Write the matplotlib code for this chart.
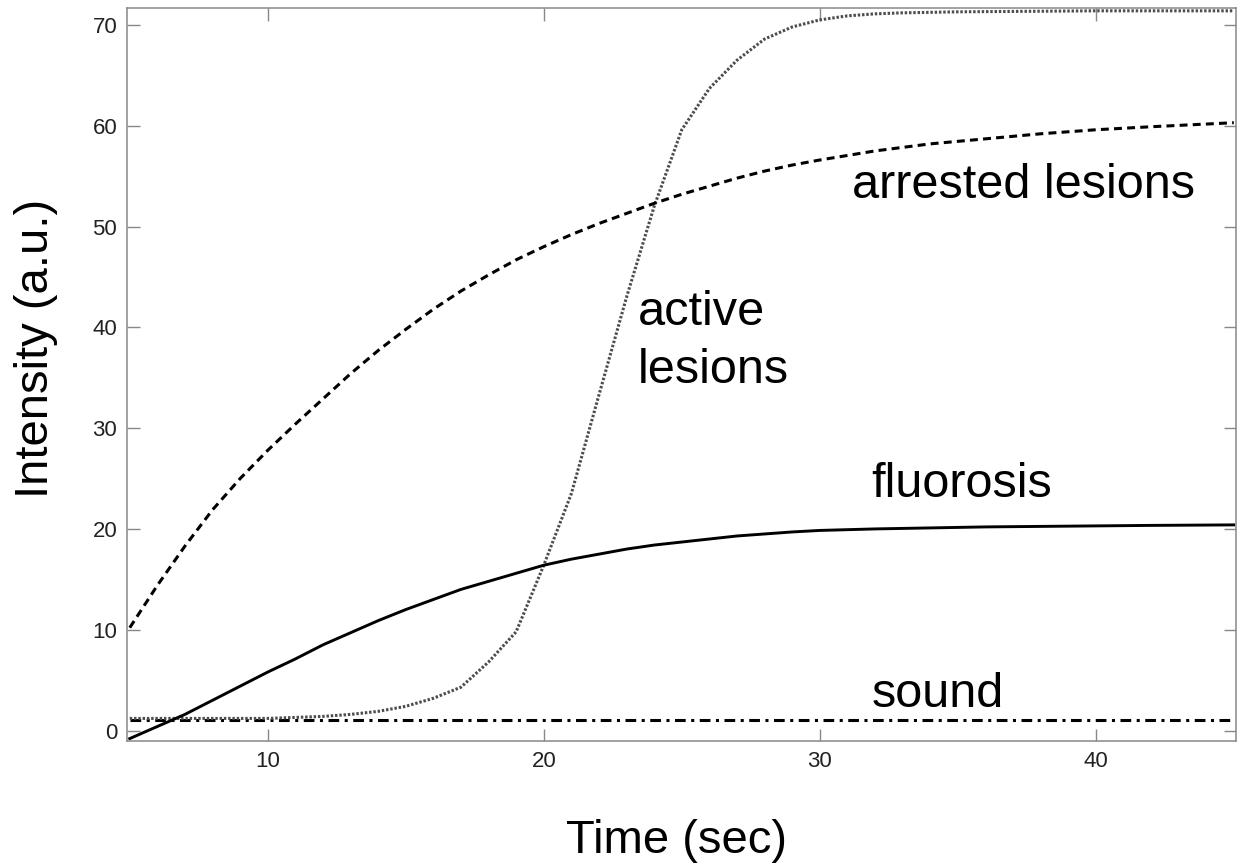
import numpy as np
import matplotlib.pyplot as plt

plt.rcParams['font.family'] = ['Liberation Sans', 'DejaVu Sans']

# time axis (sec)
t_arr = [5, 6, 7, 8, 9, 10, 11, 12, 13, 14, 15, 16, 17, 18, 19, 20, 21, 22, 23, 24,
         25, 26, 27, 28, 29, 30, 32, 34, 36, 38, 40, 42, 45]
arrested = [10.2, 14.4, 18.3, 21.9, 25.0, 27.8, 30.4, 32.9, 35.4, 37.7, 39.8, 41.8,
            43.6, 45.2, 46.7, 48.0, 49.2, 50.3, 51.3, 52.3, 53.2, 54.0, 54.8, 55.5,
            56.1, 56.6, 57.5, 58.2, 58.7, 59.2, 59.6, 59.9, 60.3]

t_flu = [5, 6, 7, 8, 9, 10, 11, 12, 13, 14, 15, 16, 17, 18, 19, 20, 21, 22, 23, 24,
         25, 26, 27, 28, 29, 30, 32, 34, 36, 38, 40, 42, 45]
fluorosis = [-0.8, 0.4, 1.6, 3.0, 4.4, 5.8, 7.1, 8.5, 9.7, 10.9, 12.0, 13.0, 14.0,
             14.8, 15.6, 16.4, 17.0, 17.5, 18.0, 18.4, 18.7, 19.0, 19.3, 19.5, 19.7,
             19.85, 20.0, 20.1, 20.2, 20.25, 20.3, 20.35, 20.4]

t_act = [5, 6, 7, 8, 9, 10, 11, 12, 13, 14, 15, 16, 17, 18, 19, 20, 21, 22, 23, 24,
         25, 26, 27, 28, 29, 30, 31, 32, 33, 35, 40, 45]
active = [1.2, 1.2, 1.2, 1.2, 1.2, 1.2, 1.3, 1.4, 1.6, 1.9, 2.4, 3.2, 4.3, 6.8, 9.8,
          16.4, 23.5, 33.3, 43.0, 52.0, 59.6, 63.7, 66.5, 68.6, 69.8, 70.5, 70.9,
          71.1, 71.2, 71.3, 71.4, 71.4]

t_snd = [5, 45]
sound = [1.0, 1.0]

fig = plt.figure(figsize=(12.46, 8.67), dpi=100)
W, H = 1246, 867
ax = fig.add_axes([127 / W, 1 - 741 / H, (1236 - 127) / W, (741 - 8) / H])

ax.plot(t_snd, sound, color='black', lw=2.2, linestyle=(0, (3.5, 1.8, 1, 1.8)))
ax.plot(t_act, active, color='0.3', lw=2.2, linestyle=(0, (0.8, 0.6)))
ax.plot(t_flu, fluorosis, color='black', lw=2.1)
ax.plot(t_arr, arrested, color='black', lw=2.2, linestyle=(0, (2.6, 1.7)))

ax.set_xlim(4.9, 45.08)
ax.set_ylim(-1.04, 71.68)
ax.set_xticks([10, 20, 30, 40])
ax.set_yticks(range(0, 71, 10))

for s in ax.spines.values():
    s.set_color('#888888')
    s.set_linewidth(1.1)
ax.tick_params(direction='in', length=9, width=1, color='#888888',
               top=True, right=True, labelsize=16, labelcolor='#222222', pad=7)

ax.text(31.15, 52.8, 'arrested lesions', fontsize=35, va='baseline')
ax.text(31.87, 23.2, 'fluorosis', fontsize=35, va='baseline')
ax.text(31.87, 2.36, 'sound', fontsize=35, va='baseline')
ax.text(23.4, 40.2, 'active', fontsize=35, va='baseline')
ax.text(23.4, 34.5, 'lesions', fontsize=35, va='baseline')

fig.text(677 / W, 1 - 852.7 / H, 'Time (sec)', fontsize=34, ha='center', va='baseline')
fig.text(48 / W, 1 - 348 / H, 'Intensity (a.u.)', fontsize=34, rotation=90,
         rotation_mode='anchor', ha='center', va='baseline')

fig.savefig('out.png', dpi=100)
